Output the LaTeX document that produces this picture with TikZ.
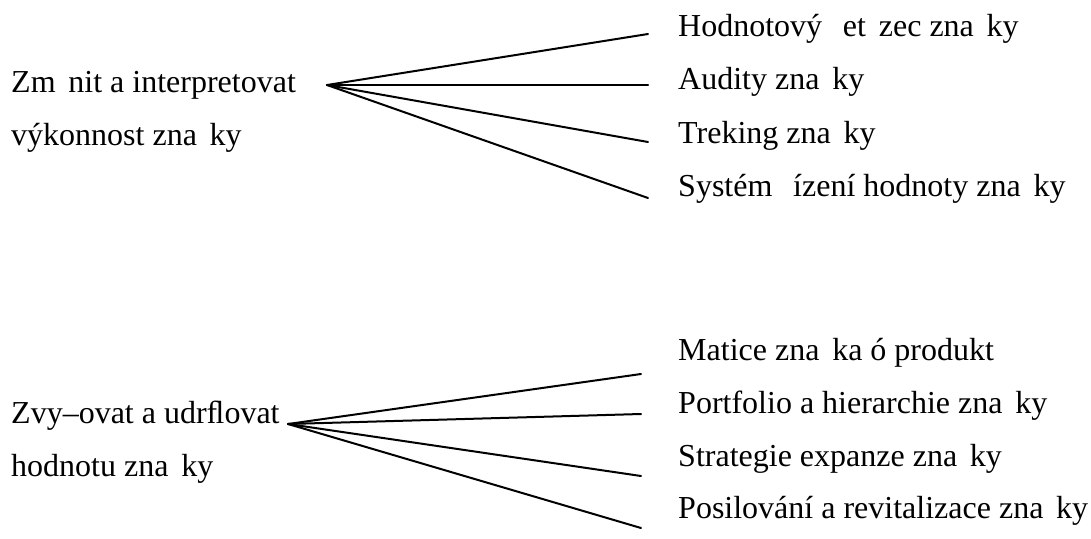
\documentclass[tikz,border=0pt]{standalone}
\usepackage{fontspec}
\setmainfont{Liberation Serif}
\newcommand{\gp}{\hspace{0.40em}}
\begin{document}
\begin{tikzpicture}[x=1pt,y=-1pt,
  lbl/.style={anchor=base west,inner sep=0pt,font=\fontsize{32}{38}\selectfont},
  fan/.style={line width=2pt,line cap=round}]
\useasboundingbox (0,0) rectangle (1091,538);
% top group
\node[lbl] (a) at (11,92) {Zm\gp nit a interpretovat};
\node[lbl] (a2) at (11,145) {výkonnost zna\gp ky};
\node[lbl] (a1) at (678,36) {Hodnotový \gp et\gp zec zna\gp ky};
\node[lbl] (a3) at (678,89) {Audity zna\gp ky};
\node[lbl] (a4) at (678,143) {Treking zna\gp ky};
\node[lbl] (a5) at (678,196) {Systém \gp ízení hodnoty zna\gp ky};
\coordinate (ao) at (327,85);
\coordinate (ae1) at (648,34);
\coordinate (ae2) at (648,85);
\coordinate (ae3) at (648,142);
\coordinate (ae4) at (648,198);
\foreach \i in {1,...,4} \draw[fan] (ao) -- (ae\i);
% bottom group
\node[lbl] (b) at (11,423) {Zvy–ovat a udrﬂovat};
\node[lbl] (b2) at (11,476) {hodnotu zna\gp ky};
\node[lbl] (b1) at (678,360) {Matice zna\gp ka ó produkt};
\node[lbl] (b3) at (678,413) {Portfolio a hierarchie zna\gp ky};
\node[lbl] (b4) at (678,466) {Strategie expanze zna\gp ky};
\node[lbl] (b5) at (678,518) {Posilování a revitalizace zna\gp ky};
\coordinate (bo) at (288,424);
\coordinate (be1) at (641,374);
\coordinate (be2) at (641,414);
\coordinate (be3) at (641,476);
\coordinate (be4) at (641,528);
\foreach \i in {1,...,4} \draw[fan] (bo) -- (be\i);
\end{tikzpicture}
\end{document}
